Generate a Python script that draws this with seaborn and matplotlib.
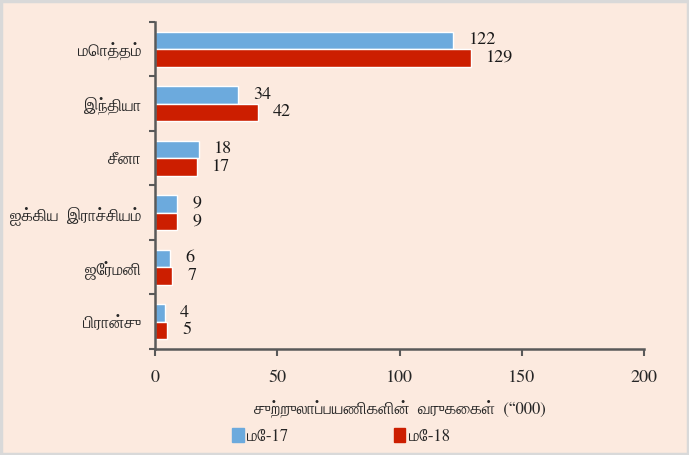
import matplotlib
matplotlib.use("Agg")
import matplotlib.pyplot as plt
import seaborn as sns
import pandas as pd
import numpy as np
from matplotlib.patches import Rectangle

categories = ["மொத்தம்", "இந்தியா", "சீனா", "ஐக்கிய  இராச்சியம்", "ஜேர்மனி", "பிரான்சு"]
may17 = [122, 34, 18, 9, 6, 4]
may18 = [129, 42, 17, 9, 7, 5]
series = ["மே-17", "மே-18"]
xticks = [0, 50, 100, 150, 200]
xlabel = "சுற்றுலாப்பயணிகளின்  வருகைகள்  (“000)"

sns.set_theme(style="white")
bg = "#FCEADF"
plt.rcParams["font.family"] = ["FreeSerif", "Liberation Serif", "DejaVu Sans"]

df = pd.DataFrame({
    "cat": categories * 2,
    "val": may17 + may18,
    "series": [series[0]] * len(categories) + [series[1]] * len(categories),
})

fig = plt.figure(figsize=(6.89, 4.55), dpi=100, facecolor=bg)
ax = fig.add_axes([0.225, 0.233, 0.71, 0.719])
ax.set_facecolor(bg)

palette = {series[0]: "#6CAADD", series[1]: "#CC1E00"}
sns.barplot(data=df, y="cat", x="val", hue="series", order=categories,
            hue_order=series, palette=palette, orient="h", width=0.64,
            ax=ax, saturation=1, legend=False)

for container in ax.containers:
    for bar in container:
        w = bar.get_width()
        ax.annotate(f"{w:g}", (w, bar.get_y() + bar.get_height() / 2),
                    xytext=(11, 0), textcoords="offset points",
                    ha="left", va="center", fontsize=13, color="#1a1a1a")

ax.set_xlim(0, 200)
ax.set_ylim(len(categories) - 0.5, -0.5)
ax.set_xticks(xticks)
ax.set_xticklabels([str(t) for t in xticks], fontsize=13)
ax.set_yticks(range(len(categories)))
ax.set_yticklabels(categories, fontsize=12)
ax.set_yticks(np.arange(-0.5, len(categories), 1), minor=True)
ax.tick_params(axis="y", which="major", length=0, pad=10)
ax.tick_params(axis="y", which="minor", length=4, width=1.5, color="#595959", direction="out", left=True)
ax.tick_params(axis="x", which="major", length=5, width=1.5, color="#595959", direction="out", bottom=True, pad=10)
ax.set_xlabel(xlabel, fontsize=12, labelpad=10)
ax.set_ylabel("")
for s in ["top", "right"]:
    ax.spines[s].set_visible(False)
for s in ["left", "bottom"]:
    ax.spines[s].set_color("#595959")
    ax.spines[s].set_linewidth(1.8)

handles = [Rectangle((0, 0), 1, 1, color=palette[s]) for s in series]
fig.legend(handles, series, loc="center", bbox_to_anchor=(0.495, 0.04), ncol=2,
           frameon=False, handlelength=0.7, handleheight=0.9, handletextpad=0.2,
           columnspacing=6.3, fontsize=12)

fig.patches.append(Rectangle((0.002, 0.002), 0.996, 0.996, transform=fig.transFigure,
                             fill=False, edgecolor="#D9D9D9", linewidth=2.5))

fig.savefig("out.png", dpi=100, facecolor=bg)
